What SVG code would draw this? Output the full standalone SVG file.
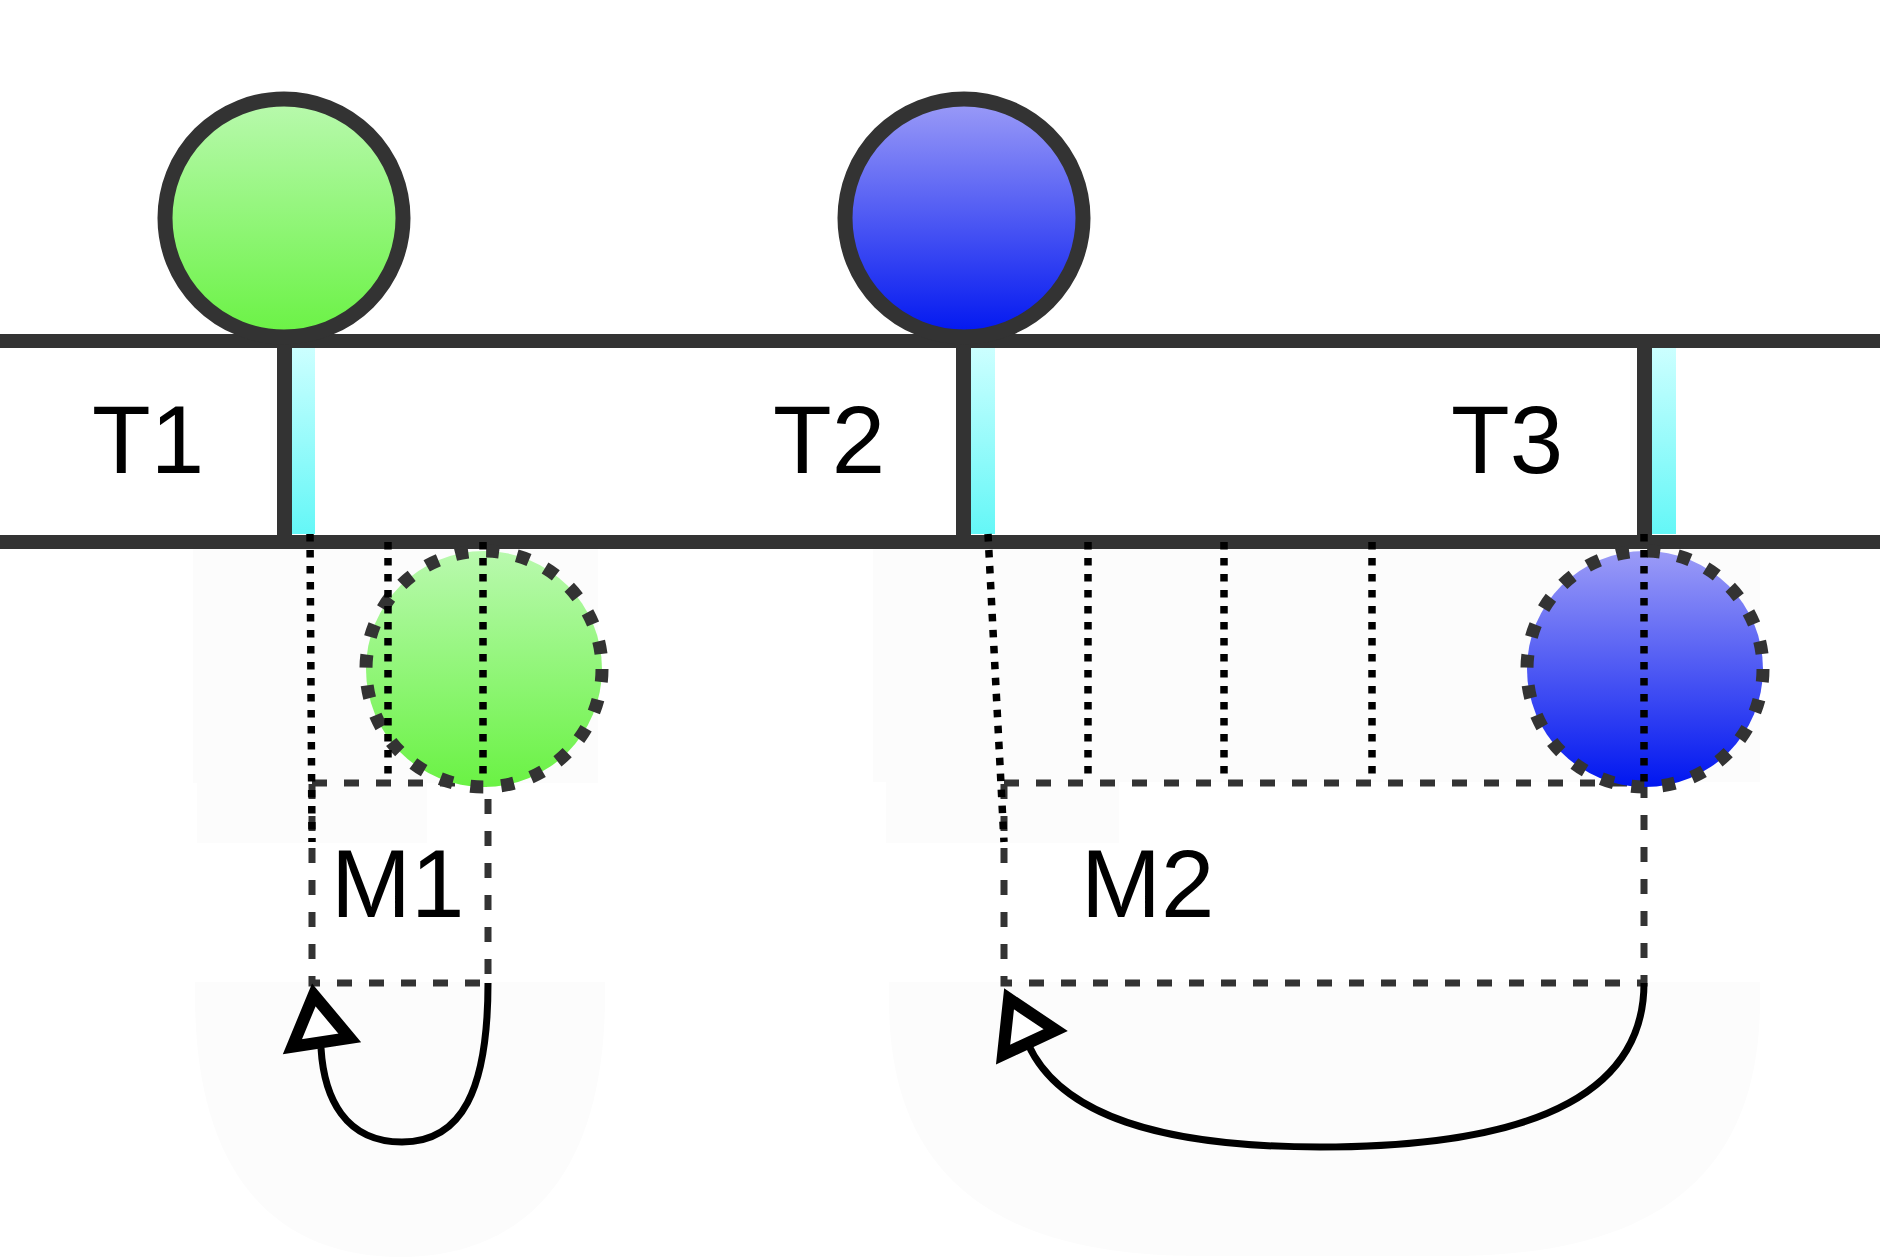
<svg xmlns="http://www.w3.org/2000/svg" xmlns:xlink="http://www.w3.org/1999/xlink" width="1880" height="1260" viewBox="0 0 1880 1260">
<defs>
<linearGradient id="gGreen" x1="0" y1="0" x2="0" y2="1"><stop offset="0" stop-color="#b9f9ae"/><stop offset="1" stop-color="#6af244"/></linearGradient>
<linearGradient id="gBlue" x1="0" y1="0" x2="0" y2="1"><stop offset="0" stop-color="#9c9cf7"/><stop offset="1" stop-color="#0016f0"/></linearGradient>
<linearGradient id="gCyan" x1="0" y1="0" x2="0" y2="1"><stop offset="0" stop-color="#ccffff"/><stop offset="1" stop-color="#64f7f7"/></linearGradient>
<path id="ah" d="M-12,0 L-60,-29 L-60,29 Z" fill="#fff" stroke="#000" stroke-width="12" stroke-linejoin="miter" stroke-miterlimit="10"/>
</defs>
<style>
.bg{fill:#fcfcfc;stroke:none}
.rail{stroke:#333;stroke-width:14;fill:none}
.div{fill:#333}
.cy{fill:url(#gCyan)}
.solid{stroke:#333;stroke-width:15}
.dashc{stroke:#333;stroke-width:13;stroke-dasharray:13 18}
.dot{stroke:#000;stroke-width:7.5;stroke-dasharray:7.5 8.5;fill:none}
.dash{stroke:#333;stroke-width:7;stroke-dasharray:15 17;fill:none}
.curve{stroke:#000;stroke-width:7;fill:none}
.lbl{font-family:"Liberation Sans",Arial,sans-serif;font-size:96px;fill:#000}
</style>
<rect width="1880" height="1260" fill="#fff"/>
<g id="background">
<rect class="bg" x="193" y="549" width="405" height="234"/>
<rect class="bg" x="197" y="783" width="230" height="60"/>
<path class="bg" d="M195 982 H605 V995 C605 1180 520 1257 400 1257 C280 1257 195 1180 195 995 Z"/>
<rect class="bg" x="873" y="549" width="887" height="233"/>
<rect class="bg" x="886" y="782" width="233" height="61"/>
<path class="bg" d="M889 982 H1760 V1000 C1760 1180 1650 1256 1450 1256 H1200 C1000 1256 889 1180 889 1000 Z"/>
</g>
<g id="rails">
<line class="rail" x1="0" y1="341" x2="1880" y2="341"/>
<line class="rail" x1="0" y1="542" x2="1880" y2="542"/>
</g>
<g id="T1">
<rect class="div" x="277" y="341" width="15" height="201"/>
<rect class="cy" x="292" y="348" width="23" height="186"/>
<text class="lbl" x="92" y="473">T1</text>
</g>
<g id="T2">
<rect class="div" x="956" y="341" width="15" height="201"/>
<rect class="cy" x="971" y="348" width="24" height="186"/>
<text class="lbl" x="773" y="473">T2</text>
</g>
<g id="T3">
<rect class="div" x="1637" y="341" width="15" height="201"/>
<rect class="cy" x="1652" y="348" width="24" height="186"/>
<text class="lbl" x="1451" y="473">T3</text>
</g>
<g id="green-top"><circle class="solid" cx="284" cy="218" r="119" fill="url(#gGreen)"/></g>
<g id="blue-top"><circle class="solid" cx="964" cy="218" r="119" fill="url(#gBlue)"/></g>
<g id="M1">
<rect class="dash" x="312" y="783" width="176" height="200"/>
<text class="lbl" x="331" y="917">M1</text>
</g>
<g id="M2">
<rect class="dash" x="1004" y="783" width="640" height="200"/>
<text class="lbl" x="1081" y="917">M2</text>
</g>
<g id="green-ghost"><circle class="dashc" cx="484" cy="669" r="118" fill="url(#gGreen)"/></g>
<g id="blue-ghost"><circle class="dashc" cx="1645" cy="669" r="118" fill="url(#gBlue)"/></g>
<g id="connectors">
<line class="dot" x1="310" y1="534" x2="312" y2="842"/>
<line class="dot" x1="388" y1="542" x2="388" y2="782"/>
<line class="dot" x1="483" y1="542" x2="483" y2="782"/>
<line class="dot" x1="988" y1="534" x2="1004" y2="842"/>
<line class="dot" x1="1088" y1="542" x2="1088" y2="782"/>
<line class="dot" x1="1224" y1="542" x2="1224" y2="782"/>
<line class="dot" x1="1372" y1="542" x2="1372" y2="782"/>
<line class="dot" x1="1644" y1="534" x2="1644" y2="782"/>
<path class="curve" d="M488 983 C488 1090 462 1142 402 1142 C345 1142 324 1098 321 1048"/>
<path class="curve" d="M1644 983 C1644 1095 1530 1147 1320 1147 C1160 1147 1060 1115 1028 1044"/>
<use xlink:href="#ah" transform="translate(312 983) rotate(-98.7)"/>
<use xlink:href="#ah" transform="translate(1004 988) rotate(-115)"/>
</g>
</svg>
